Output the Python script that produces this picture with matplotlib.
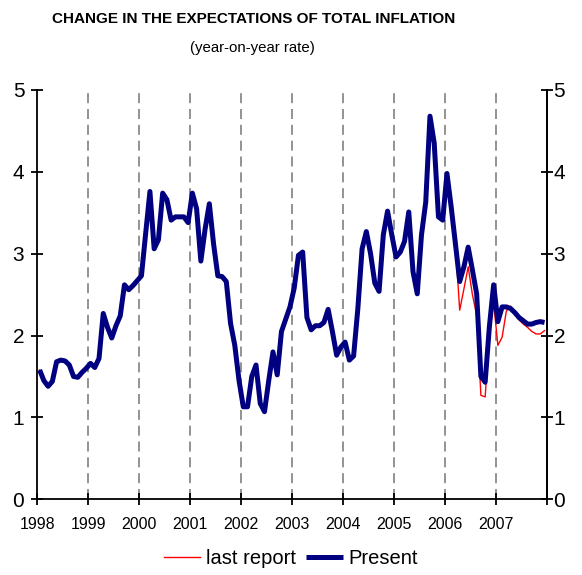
import numpy as np
import matplotlib
matplotlib.use('Agg')
import matplotlib.pyplot as plt

plt.rcParams['font.family'] = ['Liberation Sans', 'DejaVu Sans']

# monthly expectations, Jan 1998 .. Dec 2007
present = [
    1.58, 1.45, 1.38, 1.44, 1.68, 1.70, 1.69, 1.64, 1.50, 1.49, 1.55, 1.60,  # 1998
    1.66, 1.61, 1.72, 2.27, 2.10, 1.97, 2.12, 2.24, 2.62, 2.56, 2.61, 2.67,  # 1999
    2.73, 3.25, 3.76, 3.06, 3.17, 3.74, 3.66, 3.41, 3.45, 3.45, 3.45, 3.38,  # 2000
    3.74, 3.55, 2.91, 3.30, 3.61, 3.12, 2.73, 2.72, 2.66, 2.15, 1.88, 1.45,  # 2001
    1.13, 1.13, 1.50, 1.64, 1.17, 1.07, 1.45, 1.80, 1.52, 2.05, 2.20, 2.35,  # 2002
    2.58, 2.98, 3.02, 2.22, 2.07, 2.12, 2.12, 2.16, 2.32, 2.05, 1.76, 1.86,  # 2003
    1.92, 1.70, 1.75, 2.33, 3.06, 3.27, 3.00, 2.64, 2.54, 3.23, 3.52, 3.23,  # 2004
    2.96, 3.02, 3.15, 3.51, 2.78, 2.51, 3.23, 3.63, 4.68, 4.35, 3.45, 3.41,  # 2005
    3.98, 3.57, 3.12, 2.66, 2.84, 3.08, 2.80, 2.51, 1.50, 1.43, 2.11, 2.62,  # 2006
    2.17, 2.35, 2.35, 2.33, 2.28, 2.22, 2.18, 2.14, 2.14, 2.16, 2.17, 2.16,  # 2007
]
# last report differs from Apr 2006 on
last_report_tail = [2.31, 2.57, 2.84, 2.50, 2.25, 1.27, 1.25, 2.02, 2.40,
                    1.88, 1.98, 2.30, 2.36, 2.26, 2.19, 2.14, 2.10, 2.05, 2.02, 2.02, 2.06]
last_report = present[:len(present) - len(last_report_tail)] + last_report_tail

years = list(range(1998, 2009))
year_labels = [str(y) for y in range(1998, 2008)] + ['']
yticks = [0, 1, 2, 3, 4, 5]

x = 1998 + (np.arange(len(present)) + 0.5) / 12

fig = plt.figure(figsize=(5.82, 5.75), dpi=100)
ax = fig.add_axes([0.0644, 0.1317, 0.8749, 0.7118])

for yr in years[1:-1]:
    ax.axvline(yr, color='#808080', lw=1.2, ls=(0, (6, 3.5)), zorder=1)

ax.plot(x, last_report, color='#ff0000', lw=1.0, label='last report', zorder=2)
ax.plot(x, present, color='#000080', lw=3.6, label='Present', zorder=3,
        solid_joinstyle='round', solid_capstyle='butt')

ax.set_xlim(1998, 2008)
ax.set_ylim(0, 5)
ax.set_xticks(years)
ax.set_xticklabels(year_labels)
ax.set_yticks(yticks)

ax.spines['top'].set_visible(False)
for s in ['left', 'right', 'bottom']:
    ax.spines[s].set_linewidth(1.3)
ax.tick_params(axis='x', direction='inout', length=9, width=1.3, labelsize=11.5, pad=8)
ax.tick_params(axis='y', direction='inout', length=9, width=1.3, labelsize=15, pad=5)

ax2 = ax.twinx()
ax2.set_ylim(0, 5)
ax2.set_yticks(yticks)
for s in ['top', 'left', 'bottom']:
    ax2.spines[s].set_visible(False)
ax2.spines['right'].set_linewidth(1.3)
ax2.tick_params(axis='y', direction='inout', length=9, width=1.3, labelsize=15, pad=0.5)

fig.text(0.436, 0.967, 'CHANGE IN THE EXPECTATIONS OF TOTAL INFLATION',
         ha='center', va='center', fontsize=11, fontweight='bold')
fig.text(0.434, 0.917, '(year-on-year rate)', ha='center', va='center', fontsize=10.8)

fig.legend(loc='center', bbox_to_anchor=(0.5, 0.029), ncol=2, frameon=False,
           fontsize=14.5, handlelength=1.8, handletextpad=0.3, columnspacing=0.5)

fig.savefig('out.png', dpi=100)
